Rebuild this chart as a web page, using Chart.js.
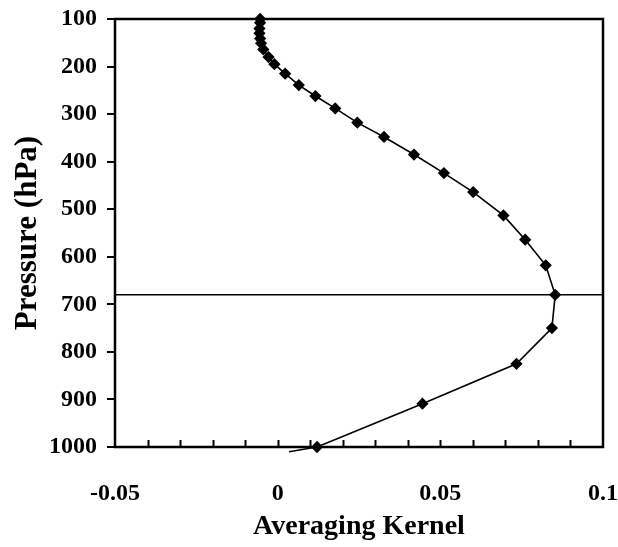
<!DOCTYPE html>
<html>
<head>
<meta charset="utf-8">
<script src="https://cdn.jsdelivr.net/npm/chart.js@4.4.1/dist/chart.umd.min.js"></script>
<style>
  html, body { margin: 0; padding: 0; background: #fff; }
  #wrap { width: 618px; height: 547px; position: relative; }
</style>
</head>
<body>
<div id="wrap"><canvas id="c" width="618" height="547"></canvas></div>
<script>
// Pressure levels (hPa) and averaging-kernel values
const pressure = [100, 108, 120, 130, 141, 151, 164, 180, 195, 215, 239, 262, 288, 318, 348, 385, 424, 464, 513, 564, 618, 680, 750, 825, 909, 1000, 1010];
const kernel   = [-0.0054, -0.0054, -0.0056, -0.0056, -0.0054, -0.0051, -0.0044, -0.0028, -0.0010, 0.0023, 0.0065, 0.0116, 0.0177, 0.0245, 0.0327, 0.0419, 0.0511, 0.0601, 0.0694, 0.0761, 0.0824, 0.0853, 0.0843, 0.0734, 0.0445, 0.0121, 0.0035];
const showMarker = [1,1,1,1,1,1,1,1,1,1,1,1,1,1,1,1,1,1,1,1,1,1,1,1,1,1,0];
// Horizontal reference line (pressure level)
const refPressure = 680;
const xRange = [-0.05, 0.1];
const yRange = [100, 1000];
const xLabels = ['-0.05', '0', '0.05', '0.1'];
const yTickValues = [100, 200, 300, 400, 500, 600, 700, 800, 900, 1000];

const FONT = "'Liberation Serif', 'Times New Roman', serif";

const profile = pressure.map((p, i) => ({ x: kernel[i], y: p }));
const refLine = [{ x: xRange[0], y: refPressure }, { x: xRange[1], y: refPressure }];

const framePlugin = {
  id: 'frame',
  afterDatasetsDraw(chart) {
    const { ctx, chartArea: a, scales } = chart;
    ctx.save();
    ctx.strokeStyle = '#000';
    ctx.lineWidth = 2.5;
    ctx.strokeRect(a.left, a.top, a.right - a.left, a.bottom - a.top);
    // inward minor ticks on bottom axis every 0.01
    ctx.lineWidth = 2;
    const xs = scales.x;
    for (let k = 1; k < 15; k++) {
      const v = xRange[0] + k * 0.01;
      const px = Math.round(xs.getPixelForValue(v)) + 0.5;
      ctx.beginPath();
      ctx.moveTo(px, a.bottom);
      ctx.lineTo(px, a.bottom - 7);
      ctx.stroke();
    }
    ctx.restore();
  }
};

new Chart(document.getElementById('c'), {
  type: 'scatter',
  data: {
    datasets: [
      {
        data: profile,
        showLine: true,
        borderColor: '#000',
        backgroundColor: '#000',
        borderWidth: 1.6,
        pointStyle: 'rectRot',
        pointRadius: showMarker.map(m => m ? 5 : 0),
        pointHoverRadius: showMarker.map(m => m ? 5 : 0),
        clip: false,
        tension: 0
      },
      {
        data: refLine,
        showLine: true,
        borderColor: '#000',
        borderWidth: 1.6,
        pointRadius: 0,
        clip: false
      }
    ]
  },
  options: {
    responsive: false,
    animation: false,
    devicePixelRatio: 1,
    layout: { padding: { top: 19, right: 15, left: 0, bottom: 0 } },
    plugins: { legend: { display: false }, tooltip: { enabled: false } },
    scales: {
      x: {
        type: 'linear',
        min: xRange[0], max: xRange[1],
        afterBuildTicks(s) {
          s.ticks = [];
          for (let k = 0; k <= 15; k++) s.ticks.push({ value: xRange[0] + k * 0.01 });
        },
        afterFit(s) { s.height = 547 - 447; s.paddingLeft = 0; s.paddingRight = 0; },
        ticks: {
          autoSkip: false,
          maxRotation: 0,
          padding: 32,
          color: '#000',
          font: { family: FONT, size: 24, weight: 'bold' },
          callback(v) {
            const r = Math.round(v * 100);
            if (r % 5 !== 0) return '';
            return xLabels[(r + 5) / 5];
          }
        },
        grid: { display: true, drawOnChartArea: false, drawTicks: false, tickLength: 0 },
        border: { display: false },
        title: {
          display: true,
          text: 'Averaging Kernel',
          color: '#000',
          font: { family: FONT, size: 28, weight: 'bold' },
          padding: { top: 0, bottom: 3 }
        }
      },
      y: {
        type: 'linear',
        reverse: true,
        min: yRange[0], max: yRange[1],
        afterBuildTicks(s) { s.ticks = yTickValues.map(v => ({ value: v })); },
        afterFit(s) { s.width = 115; s.paddingTop = 0; s.paddingBottom = 0; },
        ticks: {
          autoSkip: false,
          padding: 10,
          color: '#000',
          font: { family: FONT, size: 24, weight: 'bold' },
          callback(v) { return String(v); }
        },
        grid: { display: true, drawOnChartArea: false, drawTicks: true, tickLength: 8, color: '#000', lineWidth: 2 },
        border: { display: false },
        title: {
          display: true,
          text: 'Pressure (hPa)',
          color: '#000',
          font: { family: FONT, size: 31, weight: 'bold' },
          padding: { top: 9, bottom: 0 }
        }
      }
    }
  },
  plugins: [framePlugin]
});
</script>
</body>
</html>
